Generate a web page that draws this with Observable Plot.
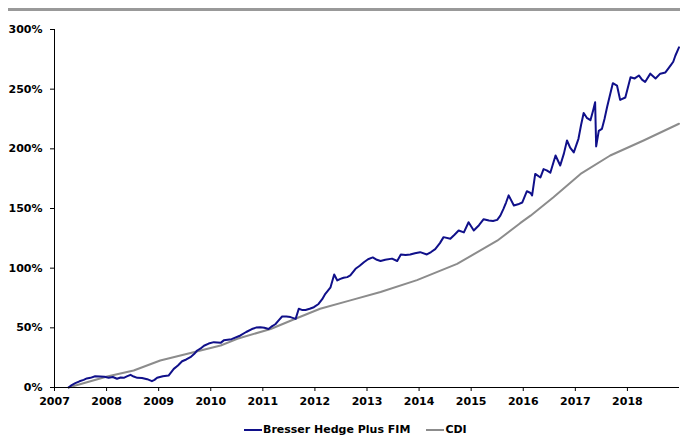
<!DOCTYPE html>
<html>
<head>
<meta charset="utf-8">
<script src="https://cdn.jsdelivr.net/npm/d3@7"></script>
<script src="https://cdn.jsdelivr.net/npm/@observablehq/plot@0.6"></script>
<style>
  html, body { margin: 0; padding: 0; background: #fff; width: 680px; height: 435px; overflow: hidden; position: relative; font-family: "DejaVu Sans", sans-serif; }
  #title { position: absolute; left: 8px; top: -12px; font-size: 15px; font-weight: bold; line-height: 15px; color: #000; }
  #rule { position: absolute; left: 8px; right: 0; top: 8px; height: 3px; background: #999; }
  #chart { position: absolute; left: 0; top: 20px; }
  #legend { position: absolute; top: 423px; left: 244px; font-size: 11px; font-weight: bold; color: #000; display: flex; align-items: center; white-space: nowrap; }
  .sw { display: inline-block; width: 18px; height: 2px; margin-right: 1px; }
</style>
</head>
<body>
<div id="title">Performance</div>
<div id="rule"></div>
<div id="chart"></div>
<div id="legend">
  <span class="sw" style="background:#10108a"></span><span>Bresser Hedge Plus FIM</span>
  <span class="sw" style="background:#8c8c8c; margin-left:16px"></span><span>CDI</span>
</div>
<script>
// Bresser Hedge Plus FIM (decimal year, cumulative %)
const fundYears = [2007.27,2007.33,2007.40,2007.48,2007.56,2007.62,2007.69,2007.78,2007.88,2007.96,2008.04,2008.12,2008.20,2008.27,2008.33,2008.40,2008.46,2008.52,2008.59,2008.68,2008.78,2008.87,2008.92,2008.97,2009.08,2009.19,2009.29,2009.37,2009.45,2009.53,2009.61,2009.68,2009.74,2009.80,2009.87,2009.96,2010.06,2010.19,2010.25,2010.40,2010.57,2010.68,2010.79,2010.87,2010.95,2011.03,2011.11,2011.18,2011.24,2011.30,2011.37,2011.45,2011.53,2011.63,2011.69,2011.75,2011.82,2011.90,2011.98,2012.07,2012.14,2012.20,2012.30,2012.37,2012.43,2012.49,2012.55,2012.62,2012.68,2012.78,2012.86,2012.94,2013.02,2013.11,2013.19,2013.26,2013.35,2013.48,2013.58,2013.65,2013.74,2013.83,2013.92,2014.02,2014.15,2014.23,2014.31,2014.40,2014.47,2014.60,2014.68,2014.76,2014.86,2014.95,2015.05,2015.15,2015.24,2015.34,2015.42,2015.50,2015.56,2015.62,2015.67,2015.72,2015.82,2015.90,2015.98,2016.07,2016.14,2016.17,2016.23,2016.33,2016.39,2016.45,2016.52,2016.62,2016.71,2016.78,2016.84,2016.90,2016.97,2017.06,2017.11,2017.16,2017.22,2017.29,2017.34,2017.38,2017.40,2017.45,2017.51,2017.56,2017.61,2017.67,2017.72,2017.80,2017.86,2017.96,2018.06,2018.14,2018.22,2018.28,2018.34,2018.44,2018.54,2018.63,2018.73,2018.83,2018.88,2018.92,2018.99];
const fundValues = [0,2.0,3.6,5.2,6.4,7.6,8.1,9.4,9.2,9.0,8.1,8.8,7.3,8.4,8.1,9.5,10.6,9.2,8.1,7.9,7.0,5.3,6.4,8.1,9.4,10.0,15.6,18.5,22.0,23.5,25.4,28.0,31.0,32.5,35.0,36.8,38.0,37.4,39.5,40.5,43.6,46.5,49.0,50.2,50.5,50.0,49.0,51.5,53.0,56.0,59.5,59.5,59.0,57.5,66.0,65.0,65.0,66.0,67.3,70.0,74.0,78.5,84.0,94.7,89.7,91.0,92.0,92.5,93.9,99.5,102.0,105.0,107.5,109.0,107.0,106.0,107.0,108.0,106.0,111.5,111.0,111.5,112.5,113.4,111.5,113.5,116.0,121.0,126.0,124.6,128.0,131.6,130.0,138.5,131.6,136.0,141.0,140.0,139.5,140.5,144.0,149.7,155.0,161.0,152.5,153.5,155.0,164.5,163.0,161.0,179.0,176.0,183.0,182.0,180.0,194.4,186.0,196.0,207.0,201.0,197.0,208.4,220.0,230.0,226.0,224.0,232.0,239.0,202.0,215.0,216.7,225.0,235.0,246.0,255.0,253.0,241.0,243.0,260.0,259.0,261.5,258.0,256.0,263.0,259.0,263.0,264.0,270.0,273.0,278.0,285.0];
// CDI (decimal year, cumulative %)
const cdiYears = [2007.27,2008.01,2008.52,2009.03,2009.67,2010.19,2010.51,2011.15,2011.59,2012.10,2012.68,2013.26,2013.96,2014.73,2015.50,2015.94,2016.14,2016.58,2017.10,2017.67,2018.31,2018.99];
const cdiValues = [0,9.2,14.2,22.6,29.6,35.2,40.8,49.0,57.0,66.0,73.0,80.0,90.0,103.6,123.0,137.7,144.0,159.5,179.0,194.4,207.0,221.0];
// Axis ticks
const xTicks = [2007,2008,2009,2010,2011,2012,2013,2014,2015,2016,2017,2018];
const yTicks = [0,50,100,150,200,250,300];

const fund = fundYears.map((x, i) => ({x, y: fundValues[i]}));
const cdi = cdiYears.map((x, i) => ({x, y: cdiValues[i]}));

const chart = Plot.plot({
  width: 680,
  height: 390,
  marginTop: 9,
  marginBottom: 23,
  marginLeft: 54,
  marginRight: 1,
  style: {fontFamily: "DejaVu Sans, sans-serif", fontSize: "11px", fontWeight: "bold", color: "#000", background: "#fff"},
  x: {domain: [2007, 2019], ticks: xTicks, tickFormat: d => String(d), tickSize: 4, tickPadding: 6, label: null},
  y: {domain: [0, 300], ticks: yTicks, tickFormat: d => d + "%", tickSize: 4, tickPadding: 8, label: null},
  marks: [
    Plot.line(cdi, {x: "x", y: "y", stroke: "#8c8c8c", strokeWidth: 2}),
    Plot.line(fund, {x: "x", y: "y", stroke: "#10108a", strokeWidth: 2}),
    Plot.ruleX([2007], {stroke: "#000", strokeWidth: 1}),
    Plot.ruleY([0], {stroke: "#000", strokeWidth: 1})
  ]
});
document.getElementById("chart").appendChild(chart);
</script>
</body>
</html>
